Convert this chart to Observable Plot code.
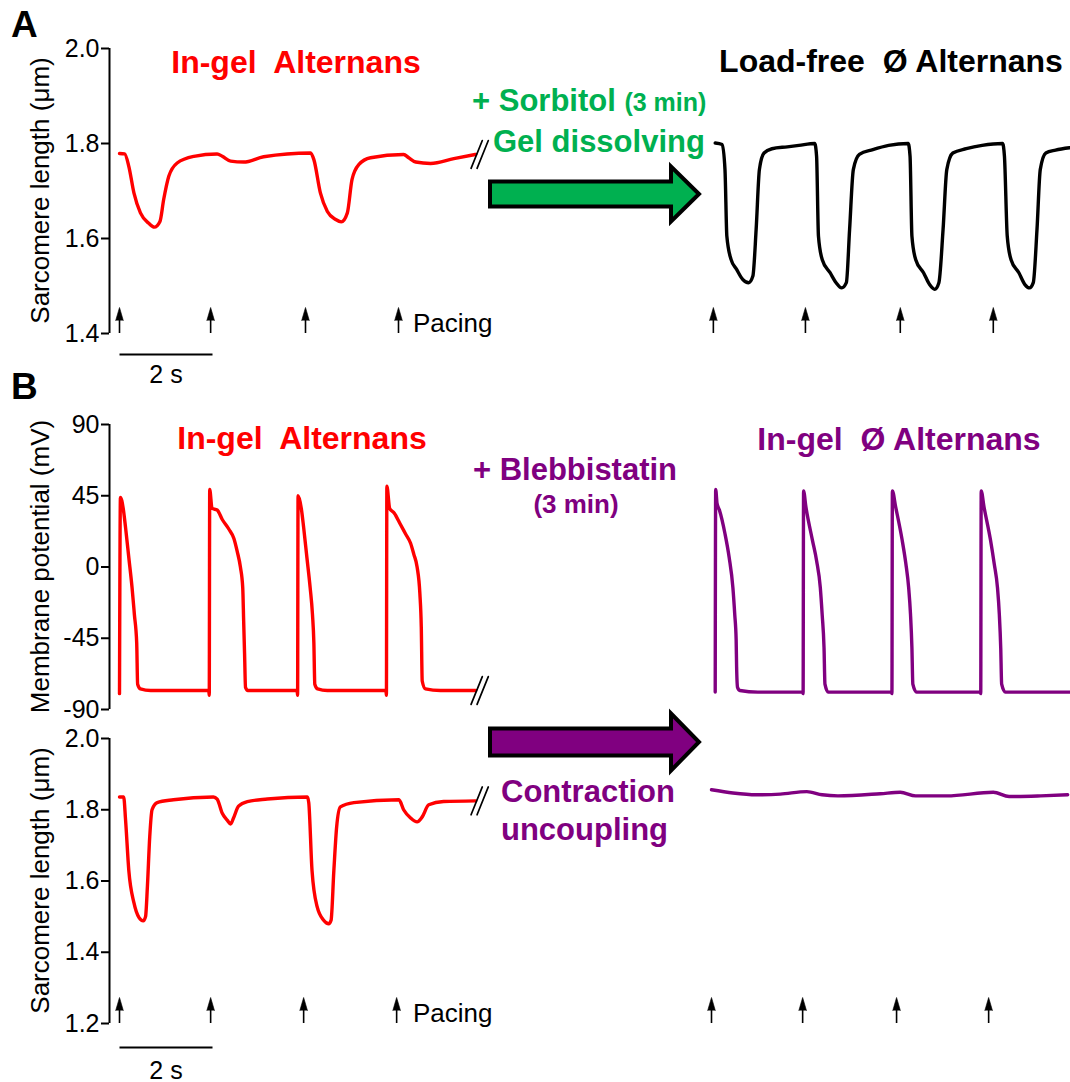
<!DOCTYPE html>
<html>
<head>
<meta charset="utf-8">
<script src="https://cdn.jsdelivr.net/npm/d3@7"></script>
<script src="https://cdn.jsdelivr.net/npm/@observablehq/plot@0.6"></script>
<style>
  html, body { margin: 0; padding: 0; background: #ffffff; }
  #fig { position: relative; width: 1070px; height: 1082px; overflow: hidden;
         font-family: "Liberation Sans", Arial, sans-serif; }
  #fig > svg { position: absolute; }
</style>
</head>
<body>
<div id="fig"></div>
<script>
// ===================== DATA =====================
// Time in seconds from the first pacing stimulus of each recording.

// Panel A – in-gel sarcomere length (µm), alternans
const aGelT  = [0.00,0.11,0.20,0.31,0.45,0.63,0.75,0.87,0.95,1.06,1.24,1.60,2.10,2.21,2.39,2.67,3.10,4.11,4.18,4.32,4.47,4.65,4.77,4.90,5.00,5.15,5.40,6.11,6.22,6.37,6.69,7.19,7.66];
const aGelSL = [1.779,1.778,1.752,1.696,1.654,1.632,1.624,1.636,1.682,1.731,1.759,1.773,1.778,1.773,1.763,1.761,1.772,1.780,1.766,1.696,1.657,1.640,1.635,1.654,1.724,1.756,1.770,1.777,1.770,1.761,1.758,1.768,1.777];
const aGelPacing = [0, 1.96, 4.00, 6.00];

// Panel A – load-free sarcomere length (µm), no alternans
const aFreeT  = [0.08,0.23,0.29,0.33,0.42,0.54,0.67,0.80,0.89,0.96,1.03,1.13,1.30,1.63,1.88,2.22,2.26,2.30,2.38,2.55,2.68,2.80,2.90,2.97,3.05,3.18,3.47,3.81,4.23,4.27,4.31,4.39,4.56,4.69,4.80,4.89,4.98,5.06,5.19,5.48,5.82,6.26,6.30,6.36,6.44,6.61,6.74,6.84,6.92,7.00,7.07,7.19,7.40,7.70];
const aFreeSL = [1.801,1.798,1.745,1.605,1.556,1.535,1.514,1.507,1.521,1.619,1.745,1.780,1.789,1.793,1.796,1.800,1.773,1.605,1.556,1.528,1.507,1.496,1.507,1.619,1.745,1.777,1.787,1.796,1.800,1.773,1.605,1.556,1.528,1.503,1.493,1.507,1.619,1.745,1.780,1.789,1.796,1.800,1.773,1.605,1.556,1.528,1.503,1.496,1.507,1.619,1.745,1.780,1.786,1.791];
const aFreePacing = [0.04, 2.02, 4.06, 6.06];

// Panel B – in-gel membrane potential (mV), alternans
const bGelApT = [0.00,0.02,0.08,0.13,0.20,0.27,0.32,0.37,0.39,0.45,0.67,1.92,1.93,1.94,1.99,2.10,2.21,2.35,2.46,2.53,2.60,2.65,2.67,2.69,2.71,2.76,3.05,3.82,3.83,3.84,3.91,3.96,4.03,4.10,4.15,4.18,4.20,4.26,4.47,5.73,5.74,5.75,5.81,5.91,6.04,6.15,6.26,6.33,6.40,6.46,6.49,6.51,6.58,6.90,7.66];
const bGelApV = [-80,44,37,25,6,-13,-30,-48,-74,-77,-78,-78,-81,49,37,36,30,24,18,10,0,-13,-34,-55,-76,-78,-78,-78,-81,45,37,25,6,-13,-30,-48,-74,-77,-78,-78,-81,51,37,34,27,21,15,8,0,-17,-38,-72,-77,-78,-78];

// Panel B – in-gel + blebbistatin membrane potential (mV), no alternans
const bBlebApT = [0.08,0.09,0.12,0.17,0.29,0.38,0.46,0.50,0.53,0.54,0.56,0.61,1.00,1.96,1.97,1.98,2.03,2.17,2.26,2.34,2.38,2.42,2.44,2.51,3.00,3.87,3.88,3.89,3.96,4.10,4.18,4.24,4.28,4.31,4.33,4.41,5.00,5.78,5.79,5.80,5.86,6.00,6.08,6.15,6.19,6.22,6.24,6.32,7.70];
const bBlebApV = [-79,49,40,36,21,6,-13,-30,-46,-63,-76,-78,-79,-79,-80,48,38,17,4,-13,-30,-51,-74,-79,-79,-79,-80,48,38,17,2,-13,-30,-51,-74,-79,-79,-79,-80,48,38,17,2,-13,-30,-51,-74,-79,-79];

// Panel B – in-gel sarcomere length (µm), alternans
const bGelSlT = [0.00,0.09,0.13,0.20,0.31,0.42,0.51,0.56,0.60,0.65,0.70,0.81,1.16,2.02,2.10,2.21,2.32,2.39,2.45,2.56,2.75,3.18,4.04,4.07,4.14,4.25,4.39,4.50,4.55,4.61,4.67,4.75,5.04,6.01,6.11,6.26,6.40,6.51,6.65,6.97,7.66];
const bGelSlV = [1.836,1.836,1.772,1.630,1.539,1.497,1.488,1.500,1.584,1.724,1.800,1.820,1.828,1.836,1.830,1.790,1.770,1.760,1.776,1.810,1.823,1.830,1.836,1.820,1.630,1.528,1.490,1.480,1.490,1.630,1.752,1.808,1.820,1.828,1.800,1.777,1.766,1.780,1.814,1.823,1.825];
const bGelPacing = [0, 1.96, 3.96, 5.96];

// Panel B – blebbistatin sarcomere length (µm), contraction uncoupled
const bBlebSlT = [0.00,0.46,0.96,1.48,2.05,2.38,2.72,3.63,4.06,4.39,5.06,6.06,6.40,7.08,7.66];
const bBlebSlV = [1.856,1.847,1.842,1.844,1.851,1.842,1.839,1.845,1.849,1.839,1.839,1.849,1.837,1.839,1.842];
const bBlebPacing = [0, 1.96, 3.98, 5.96];

// Axes
const slTicksA = [1.4, 1.6, 1.8, 2.0];
const apTicks  = [-90, -45, 0, 45, 90];
const slTicksB = [1.2, 1.4, 1.6, 1.8, 2.0];
const scaleBarSeconds = 2;

// ===================== LAYOUT / STYLE =====================
const RED = "#ff0000", GREEN = "#00b050", PURPLE = "#800080", BLACK = "#000000";
const FONT = '"Liberation Sans", Arial, sans-serif';
const PX_PER_S = 46.5;          // horizontal calibration
const LEFT_T0 = 119, RIGHT_T0 = 711, AXIS_X = 109;
const PLOT_H = 285, M_TOP = 30, M_BOTTOM = 70;
const TRACE_W = 3.4;

const zipTrace = (T, V) => T.map((t, i) => ({t, v: V[i]}));
const fig = document.getElementById("fig");
const hasShapes = typeof Plot.spike === "function";
const segmentShape = {draw(context, l) { context.moveTo(0, 0); context.lineTo(0, -l); }};

function pacingMarks(pacing, yDomain) {
  const span = yDomain[1] - yDomain[0];
  const base = yDomain[0];
  const tip = base + span * 26 / PLOT_H;
  const marks = [];
  if (hasShapes) {
    marks.push(Plot.ruleX(pacing, {x: d => d, y1: base, y2: base + span * 14 / PLOT_H, stroke: BLACK, strokeWidth: 1.6}));
    marks.push(Plot.vector(pacing, {x: d => d, y: tip, length: 13, r: 3.8, shape: "spike", anchor: "end",
                                    fill: BLACK, stroke: BLACK, strokeWidth: 0.6}));
  } else {
    marks.push(Plot.arrow(pacing, {x1: d => d, x2: d => d, y1: base, y2: tip,
                                   headLength: 9, headAngle: 45, stroke: BLACK, strokeWidth: 1.6}));
  }
  return marks;
}

function breakMarks(last) {
  if (hasShapes) {
    return [-3, 3].map(dx => Plot.vector([last], {x: "t", y: "v", length: 30, rotate: 22, anchor: "middle",
      shape: segmentShape, dx: 4 + dx, stroke: BLACK, strokeWidth: 1.7, fill: "none"}));
  }
  return [Plot.text([last], {x: "t", y: "v", text: () => "//", dx: 6, fontSize: 38, fill: BLACK})];
}

function tracePanel({side, tickTop, yDomain, yTicks, yFormat, trace, color, pacing, scaleBar, breakMark}) {
  const left = side === "left" ? 0 : 700;
  const width = side === "left" ? 500 : 370;
  const marginLeft = side === "left" ? AXIS_X : 0;
  const t0 = side === "left" ? LEFT_T0 : RIGHT_T0;
  const xDomain = [(left + marginLeft - t0) / PX_PER_S, (left + width - t0) / PX_PER_S];
  const data = zipTrace(trace[0], trace[1]);
  const marks = [];
  if (side === "left") {
    marks.push(Plot.ruleX([xDomain[0]], {stroke: BLACK, strokeWidth: 2}));
    marks.push(Plot.axisY({ticks: yTicks, tickFormat: yFormat, tickSize: 8, tickPadding: 2,
                           strokeWidth: 2, fontSize: 25, label: null}));
  }
  marks.push(Plot.line(data, {x: "t", y: "v", stroke: color, strokeWidth: TRACE_W, curve: "monotone-x"}));
  marks.push(...pacingMarks(pacing, yDomain));
  if (breakMark) marks.push(...breakMarks(data[data.length - 1]));
  if (scaleBar) {
    marks.push(Plot.link([scaleBarSeconds], {x1: 0, x2: d => d, y1: yDomain[0], y2: yDomain[0],
                         dy: scaleBar.barDy, stroke: BLACK, strokeWidth: 2}));
    marks.push(Plot.text([scaleBarSeconds], {x: d => d / 2, y: yDomain[0], text: d => `${d} s`,
                         dy: scaleBar.textDy, fontSize: 25, fill: BLACK}));
  }
  const svg = Plot.plot({
    width, height: M_TOP + PLOT_H + M_BOTTOM,
    marginLeft, marginRight: 0, marginTop: M_TOP, marginBottom: M_BOTTOM,
    style: {fontFamily: FONT, fontSize: "25px", background: "transparent", overflow: "visible", color: BLACK},
    x: {domain: xDomain, axis: null},
    y: {domain: yDomain, axis: null, label: null},
    marks
  });
  svg.style.left = left + "px";
  svg.style.top = (tickTop - M_TOP) + "px";
  fig.appendChild(svg);
}

const f1 = d3.format(".1f");
const fInt = d => String(d);

// Panel A
tracePanel({side: "left", tickTop: 48, yDomain: [1.4, 2.0], yTicks: slTicksA, yFormat: f1,
            trace: [aGelT, aGelSL], color: RED, pacing: aGelPacing,
            scaleBar: {barDy: 21, textDy: 41}, breakMark: true});
tracePanel({side: "right", tickTop: 48, yDomain: [1.4, 2.0],
            trace: [aFreeT, aFreeSL], color: BLACK, pacing: aFreePacing});
// Panel B – membrane potential
tracePanel({side: "left", tickTop: 424, yDomain: [-90, 90], yTicks: apTicks, yFormat: fInt,
            trace: [bGelApT, bGelApV], color: RED, pacing: [], breakMark: true});
tracePanel({side: "right", tickTop: 424, yDomain: [-90, 90],
            trace: [bBlebApT, bBlebApV], color: PURPLE, pacing: []});
// Panel B – sarcomere length
tracePanel({side: "left", tickTop: 738, yDomain: [1.2, 2.0], yTicks: slTicksB, yFormat: f1,
            trace: [bGelSlT, bGelSlV], color: RED, pacing: bGelPacing,
            scaleBar: {barDy: 24, textDy: 47}, breakMark: true});
tracePanel({side: "right", tickTop: 738, yDomain: [1.2, 2.0],
            trace: [bBlebSlT, bBlebSlV], color: PURPLE, pacing: bBlebPacing});

// ===================== ANNOTATIONS =====================
const overlay = d3.create("svg")
  .attr("width", 1070).attr("height", 1082)
  .style("left", "0px").style("top", "0px").style("pointer-events", "none")
  .attr("font-family", FONT);

// treatment arrows
const arrowShape = (x0, x1, xt, yc, half, headHalf) =>
  [[x0, yc - half], [x1, yc - half], [x1, yc - headHalf], [xt, yc], [x1, yc + headHalf], [x1, yc + half], [x0, yc + half]];
overlay.append("polygon").attr("points", arrowShape(490, 671, 699, 194, 12.5, 27.5).join(" "))
  .attr("fill", GREEN).attr("stroke", BLACK).attr("stroke-width", 4).attr("stroke-linejoin", "miter");
overlay.append("polygon").attr("points", arrowShape(490, 671, 699, 742, 13.5, 28.5).join(" "))
  .attr("fill", PURPLE).attr("stroke", BLACK).attr("stroke-width", 4).attr("stroke-linejoin", "miter");

const texts = [
  {x: 11, y: 37, size: 37, w: 700, c: BLACK, a: "start", parts: [["A"]]},
  {x: 11, y: 399, size: 37, w: 700, c: BLACK, a: "start", parts: [["B"]]},
  {x: 296, y: 73, size: 32, w: 700, c: RED, a: "middle", parts: [["In-gel  Alternans"]]},
  {x: 891, y: 72, size: 32, w: 700, c: BLACK, a: "middle", parts: [["Load-free  Ø Alternans"]]},
  {x: 472, y: 111, size: 31, w: 700, c: GREEN, a: "start", parts: [["+ Sorbitol "], ["(3 min)", 25]]},
  {x: 493, y: 152, size: 31, w: 700, c: GREEN, a: "start", parts: [["Gel dissolving"]]},
  {x: 302, y: 449, size: 32, w: 700, c: RED, a: "middle", parts: [["In-gel  Alternans"]]},
  {x: 899, y: 450, size: 32, w: 700, c: PURPLE, a: "middle", parts: [["In-gel  Ø Alternans"]]},
  {x: 575, y: 480, size: 31, w: 700, c: PURPLE, a: "middle", parts: [["+ Blebbistatin"]]},
  {x: 576, y: 513, size: 26, w: 700, c: PURPLE, a: "middle", parts: [["(3 min)"]]},
  {x: 501, y: 802, size: 31, w: 700, c: PURPLE, a: "start", parts: [["Contraction"]]},
  {x: 501, y: 840, size: 31, w: 700, c: PURPLE, a: "start", parts: [["uncoupling"]]},
  {x: 413, y: 332, size: 26, w: 400, c: BLACK, a: "start", parts: [["Pacing"]]},
  {x: 413, y: 1022, size: 26, w: 400, c: BLACK, a: "start", parts: [["Pacing"]]}
];
for (const t of texts) {
  const el = overlay.append("text").attr("x", t.x).attr("y", t.y)
    .attr("font-size", t.size).attr("font-weight", t.w).attr("fill", t.c)
    .attr("text-anchor", t.a).style("white-space", "pre");
  for (const [str, sz] of t.parts) {
    const sp = el.append("tspan").text(str);
    if (sz) sp.attr("font-size", sz);
  }
}
// rotated axis titles
const yTitles = [
  {text: "Sarcomere length (μm)", x: 49, y: 190.5},
  {text: "Membrane potential (mV)", x: 49, y: 566.5},
  {text: "Sarcomere length (μm)", x: 49, y: 880.5}
];
for (const t of yTitles) {
  overlay.append("text").attr("transform", `translate(${t.x},${t.y}) rotate(-90)`)
    .attr("text-anchor", "middle").attr("font-size", 26).attr("fill", BLACK).text(t.text);
}
fig.appendChild(overlay.node());
</script>
</body>
</html>
